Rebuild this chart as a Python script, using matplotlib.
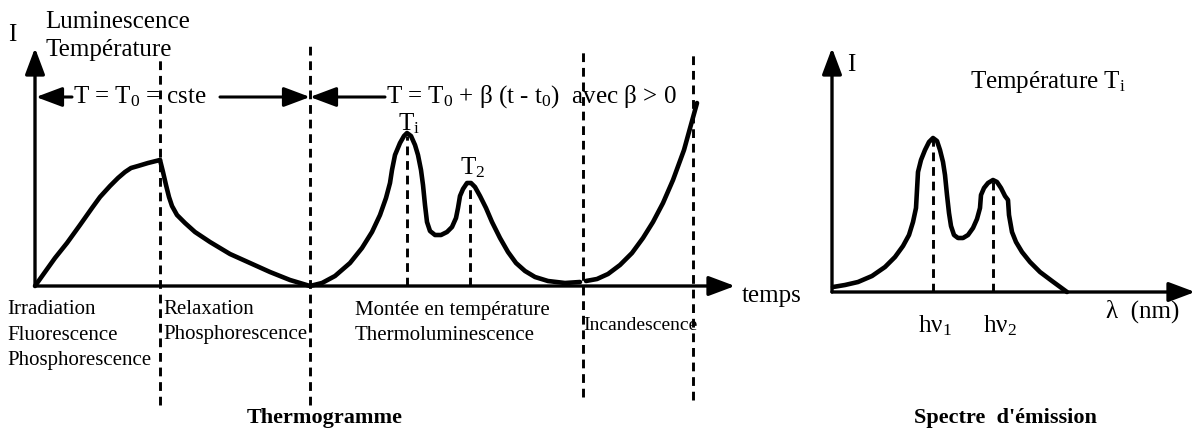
import matplotlib
matplotlib.use("Agg")
import matplotlib.pyplot as plt

plt.rcParams['font.family'] = ['Liberation Serif', 'DejaVu Serif']
plt.rcParams['mathtext.fontset'] = 'custom'
plt.rcParams['mathtext.rm'] = 'Liberation Serif'
plt.rcParams['mathtext.it'] = 'Liberation Serif:italic'

W, H = 1197, 442

# ---------------- data: thermogram (time units, intensity units) ----------------
irr_t = [0, 10, 20, 32, 45, 57, 65, 75, 83, 90, 96, 103, 113, 125]
irr_I = [0, 14, 28, 43, 61, 78, 89, 100, 108, 114, 118, 120, 123, 126]

rel_t = [125, 128, 131, 134, 137, 142, 150, 160, 175, 195, 215, 235, 255, 275]
rel_I = [126, 114, 101, 89, 80, 71, 63, 54, 44, 32, 23, 14, 6, 0]

tl_t = [275, 287, 300, 315, 327, 337, 345, 351, 355, 357, 360, 365, 369, 372, 376,
        380, 383, 386, 388, 390, 392, 395, 400, 406, 412, 417, 421, 423, 425, 428,
        432, 436, 440, 445, 451, 457, 465, 473, 481, 490, 500, 513, 530, 545]
tl_I = [0, 3, 10, 23, 38, 54, 71, 88, 103, 116, 131, 143, 150, 153, 150,
        141, 131, 116, 101, 81, 64, 55, 51, 51, 54, 59, 68, 78, 90, 97,
        103, 103, 99, 90, 78, 64, 48, 34, 23, 15, 9, 5, 3, 4]

inc_t = [551, 562, 573, 585, 597, 608, 618, 628, 638, 649, 662]
inc_I = [5, 7, 12, 21, 33, 48, 64, 83, 106, 136, 183]

peak_t = [372, 435]
peak_I = [150, 100]

phase_t = [125, 275, 548, 658]
phase_top = [229, 241, 239, 236]
phase_bot = [-119, -119, -111, -114]

# ---------------- data: emission spectrum ----------------
sp_l = [1, 13, 26, 40, 53, 63, 71, 77, 81, 84, 85, 86, 89, 93, 97, 101, 105, 108,
        111, 113, 115, 117, 119, 122, 126, 131, 136, 141, 145, 148, 149, 152, 156,
        161, 165, 169, 173, 176, 177, 180, 184, 190, 198, 208, 220, 235]
sp_I = [5, 7, 10, 16, 25, 35, 46, 57, 70, 84, 102, 120, 132, 142, 150, 154, 151, 142,
        130, 117, 97, 79, 66, 57, 54, 54, 57, 64, 73, 84, 97, 104, 109,
        112, 110, 104, 96, 92, 77, 60, 50, 40, 30, 20, 11, 0]
sp_peak_l = [101, 161]
sp_peak_I = [152, 110]

fig = plt.figure(figsize=(W / 100, H / 100), dpi=100)

# overlay axes in pixel coordinates for text and annotations
ov = fig.add_axes([0, 0, 1, 1])
ov.set_xlim(0, W)
ov.set_ylim(H, 0)
ov.axis('off')

# left: thermogram axes (origin at pixel (35, 286))
x0, y0 = 35, 286
ax1 = fig.add_axes([x0 / W, (H - y0) / H, 700 / W, 238 / H])
ax1.set_xlim(0, 700)
ax1.set_ylim(0, 238)
ax1.axis('off')
ax1.patch.set_alpha(0)

# right: spectrum axes (origin at pixel (832, 292))
x1, y1 = 832, 292
ax2 = fig.add_axes([x1 / W, (H - y1) / H, 363 / W, 244 / H])
ax2.set_xlim(0, 363)
ax2.set_ylim(0, 244)
ax2.axis('off')
ax2.patch.set_alpha(0)

curve_kw = dict(color='black', lw=3.3, solid_joinstyle='round', solid_capstyle='round',
                clip_on=False)
dash_kw = dict(color='black', lw=2.1, linestyle=(0, (3.0, 2.0)), clip_on=False)

def axis_arrow(ax, start, end):
    ax.annotate('', xy=end, xytext=start, xycoords='axes fraction',
                textcoords='axes fraction',
                arrowprops=dict(arrowstyle='-|>,head_length=0.8,head_width=0.3',
                                mutation_scale=20, lw=2.4, color='black',
                                shrinkA=0, shrinkB=0))

# axes with arrows
axis_arrow(ax1, (0, 0), (0, 1))
axis_arrow(ax1, (0, 0), (1, 0))
axis_arrow(ax2, (0, 0), (0, 1))
axis_arrow(ax2, (0, 0), (1, 0))

# curves
ax1.plot(irr_t, irr_I, **curve_kw)
ax1.plot(rel_t, rel_I, **curve_kw)
ax1.plot(tl_t, tl_I, **curve_kw)
ax1.plot(inc_t, inc_I, **curve_kw)
for t, top, bot in zip(phase_t, phase_top, phase_bot):
    ax1.plot([t, t], [bot, top], **dash_kw)
for t, I in zip(peak_t, peak_I):
    ax1.plot([t, t], [0, I], **dash_kw)

ax2.plot(sp_l, sp_I, **curve_kw)
for l, I in zip(sp_peak_l, sp_peak_I):
    ax2.plot([l, l], [0, I], **dash_kw)

# top arrows (temperature regimes)
def harrow(xs, xe, y):
    ov.annotate('', xy=(xe, y), xytext=(xs, y), xycoords='data', textcoords='data',
                arrowprops=dict(arrowstyle='-|>,head_length=0.8,head_width=0.3',
                                mutation_scale=20, lw=2.2, color='black',
                                shrinkA=0, shrinkB=0))

harrow(72, 36, 97)
harrow(220, 310, 97)
harrow(385, 310, 97)

fs = 18
ov.text(8, 35, 'I', fontsize=fs, va='center', ha='left')
ov.text(45, 22, 'Luminescence', fontsize=fs, va='center', ha='left')
ov.text(45, 50, 'Température', fontsize=fs, va='center', ha='left')
ov.text(73, 97, r'T = T$_0$ = cste', fontsize=fs, va='center', ha='left')
ov.text(386, 97, r'T = T$_0$ + β (t - t$_0$)  avec β > 0', fontsize=fs, va='center', ha='left')
ov.text(398, 124, r'T$_\mathrm{i}$', fontsize=fs, va='center', ha='left')
ov.text(460, 168, r'T$_2$', fontsize=fs, va='center', ha='left')
ov.text(742, 296, 'temps', fontsize=fs, va='center', ha='left')

lfs = 15
ov.text(7, 310, 'Irradiation', fontsize=lfs, va='center', ha='left')
ov.text(7, 335, 'Fluorescence', fontsize=lfs, va='center', ha='left')
ov.text(7, 360, 'Phosphorescence', fontsize=lfs, va='center', ha='left')
ov.text(163, 310, 'Relaxation', fontsize=lfs, va='center', ha='left')
ov.text(163, 335, 'Phosphorescence', fontsize=lfs, va='center', ha='left')
ov.text(355, 310, 'Montée en température', fontsize=lfs, va='center', ha='left')
ov.text(355, 335, 'Thermoluminescence', fontsize=lfs, va='center', ha='left')
ov.text(583, 326, 'Incandescence', fontsize=14, va='center', ha='left')

ov.text(325, 418, 'Thermogramme', fontsize=16, fontweight='bold', va='center', ha='center')

ov.text(847, 65, 'I', fontsize=fs, va='center', ha='left')
ov.text(970, 82, r'Température T$_\mathrm{i}$', fontsize=fs, va='center', ha='left')
ov.text(1106, 311, 'λ  (nm)', fontsize=fs, va='center', ha='left')
ov.text(918, 326, r'hν$_1$', fontsize=fs, va='center', ha='left')
ov.text(983, 326, r'hν$_2$', fontsize=fs, va='center', ha='left')
ov.text(1005, 418, "Spectre  d'émission", fontsize=16, fontweight='bold', va='center', ha='center')

fig.savefig('out.png', dpi=100)
